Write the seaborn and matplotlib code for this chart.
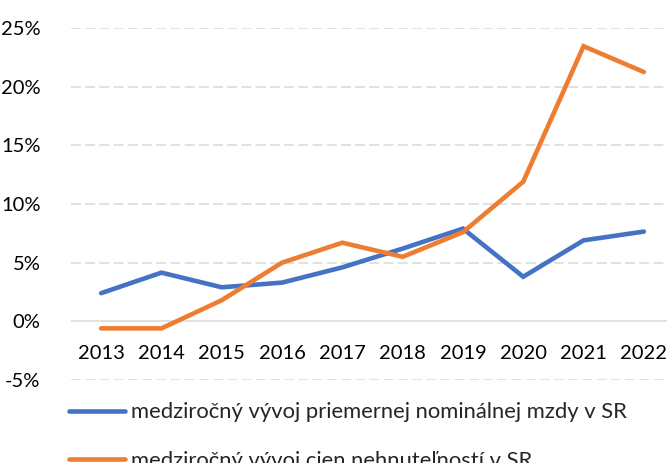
import matplotlib
matplotlib.use("Agg")
import matplotlib.pyplot as plt
import seaborn as sns
import pandas as pd
from matplotlib.ticker import FuncFormatter
from matplotlib.lines import Line2D

years = ["2013", "2014", "2015", "2016", "2017", "2018", "2019", "2020", "2021", "2022"]
wages = [2.4, 4.15, 2.9, 3.3, 4.6, 6.2, 7.9, 3.8, 6.9, 7.65]
prices = [-0.6, -0.6, 1.8, 5.0, 6.7, 5.5, 7.6, 11.9, 23.45, 21.25]
series_names = ["medziročný vývoj priemernej nominálnej mzdy v SR",
                "medziročný vývoj cien nehnuteľností v SR"]
yticks = [-5, 0, 5, 10, 15, 20, 25]

sns.set_theme(style="white")
plt.rcParams['font.family'] = ['Lato', 'DejaVu Sans']

df = pd.DataFrame({
    "x": list(range(len(years))) * 2,
    "value": wages + prices,
    "series": [series_names[0]] * len(years) + [series_names[1]] * len(years),
})

W, H = 667, 463
fig = plt.figure(figsize=(W / 100, H / 100), dpi=100)
ax = fig.add_axes([71 / W, 83 / H, (674 - 71) / W, (380 - 28) / H])

sns.lineplot(data=df, x="x", y="value", hue="series",
             palette=["#4472C4", "#ED7D31"], linewidth=3.3, ax=ax,
             legend=False, solid_capstyle="round", solid_joinstyle="miter")

ax.set_xlim(-0.5, len(years) - 0.5)
ax.set_ylim(-5, 25)
ax.set_yticks(yticks)
ax.yaxis.set_major_formatter(FuncFormatter(lambda v, p: f"{int(v)}%"))
for t in yticks:
    if t == 0:
        ax.axhline(t, color="#D9D9D9", lw=1.1, zorder=0)
    else:
        ax.axhline(t, color="#D9D9D9", lw=1.1, ls=(0, (6.5, 2.8)), zorder=0)

for s in ax.spines.values():
    s.set_visible(False)
ax.set_xticks(range(len(years)))
ax.set_xticklabels([])
ax.tick_params(axis="both", length=0)
ax.tick_params(axis="y", labelsize=14.5, pad=22, labelcolor="#000000")
ax.set_xlabel("")
ax.set_ylabel("")

for i, yr in enumerate(years):
    ax.text(i, -2.7, yr, ha="center", va="center",
            fontsize=14.5, color="#000000")

handles = [Line2D([0], [0], color="#4472C4", lw=3.3, solid_capstyle="round"),
           Line2D([0], [0], color="#ED7D31", lw=3.3, solid_capstyle="round")]
fig.legend(handles, series_names, loc="upper left",
           bbox_to_anchor=(60 / W, 1 - 393.5 / H), frameon=False,
           fontsize=15.8, handlelength=2.55, handletextpad=0.3,
           labelspacing=1.29, borderaxespad=0)

fig.savefig("out.png", dpi=100)
